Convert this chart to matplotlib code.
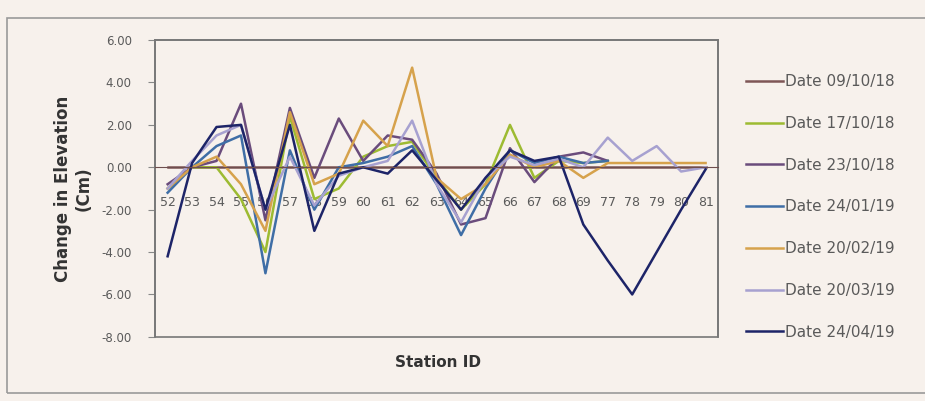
import numpy as np
import matplotlib
matplotlib.use("Agg")
import matplotlib.pyplot as plt
from matplotlib.patches import Rectangle

nan = np.nan

stations = ["52", "53", "54", "55", "56", "57", "58", "59", "60", "61", "62", "63",
            "64", "65", "66", "67", "68", "69", "77", "78", "79", "80", "81"]

d_091018 = [0.0, 0.0, 0.0, 0.0, 0.0, 0.0, 0.0, 0.0, 0.0, 0.0, 0.0, 0.0,
            0.0, 0.0, 0.0, 0.0, 0.0, 0.0, 0.0, 0.0, 0.0, 0.0, 0.0]
d_171018 = [-1.0, 0.0, 0.0, -1.5, -4.0, 2.4, -1.5, -1.0, 0.5, 1.0, 1.2, -0.5,
            -2.0, -0.8, 2.0, -0.5, 0.3, 0.2, 0.3, nan, nan, nan, nan]
d_231018 = [-0.8, 0.0, 0.3, 3.0, -2.5, 2.8, -0.5, 2.3, 0.3, 1.5, 1.3, -0.3,
            -2.7, -2.4, 0.9, -0.7, 0.5, 0.7, 0.3, nan, nan, nan, nan]
d_240119 = [-1.2, 0.0, 1.0, 1.5, -5.0, 0.8, -2.0, 0.0, 0.2, 0.5, 1.0, -0.8,
            -3.2, -1.0, 0.8, 0.2, 0.5, 0.2, 0.3, nan, nan, nan, nan]
d_200219 = [-1.0, 0.0, 0.5, -0.8, -3.0, 2.6, -0.8, -0.3, 2.2, 1.0, 4.7, -0.5,
            -1.5, -0.8, 0.6, 0.0, 0.3, -0.5, 0.2, 0.2, 0.2, 0.2, 0.2]
d_200319 = [-1.0, 0.3, 1.5, 2.0, -2.0, 0.5, -1.8, -0.4, 0.0, 0.3, 2.2, -0.8,
            -2.6, -0.5, 0.5, 0.1, 0.4, 0.0, 1.4, 0.3, 1.0, -0.2, 0.0]
d_240419 = [-4.2, 0.2, 1.9, 2.0, -2.0, 2.0, -3.0, -0.3, 0.0, -0.3, 0.8, -0.6,
            -2.0, -0.5, 0.8, 0.3, 0.5, -2.7, -4.4, -6.0, -4.0, -2.0, -0.1]

labels = ["Date 09/10/18", "Date 17/10/18", "Date 23/10/18", "Date 24/01/19",
          "Date 20/02/19", "Date 20/03/19", "Date 24/04/19"]
series = [d_091018, d_171018, d_231018, d_240119, d_200219, d_200319, d_240419]
colors = ["#7E5656", "#9DBB32", "#6A4C7C", "#3F6EA6", "#D6A24C", "#A7A1D0", "#1D2468"]

bg = "#F7F1EC"
fig = plt.figure(figsize=(9.25, 4.01), dpi=100, facecolor=bg)
fig.patches.append(Rectangle((0.008, 0.02), 1.1, 0.935, transform=fig.transFigure,
                             fill=False, edgecolor="#9A9A9A", lw=1.2))

ax = fig.add_axes([0.168, 0.16, 0.608, 0.74])
ax.set_facecolor(bg)

x = np.arange(len(stations))
for vals, lab, col in zip(series, labels, colors):
    ax.plot(x, vals, color=col, lw=1.8, label=lab)

ax.set_xlim(-0.5, len(stations) - 0.5)
ax.set_ylim(-8, 6)
ax.set_yticks(np.arange(-8, 7, 2))
ax.set_yticklabels(["%.2f" % v for v in np.arange(-8, 7, 2)])
ax.tick_params(axis="y", labelsize=8.5, labelcolor="#5A5A5A", color="#888888",
               length=5, pad=12)

# category axis crosses at zero, like the Excel chart
for s in ["top", "right", "left"]:
    ax.spines[s].set_color("#777777")
    ax.spines[s].set_linewidth(1.2)
ax.spines["bottom"].set_position(("data", 0))
ax.spines["bottom"].set_color("#6E4E4E")
ax.set_xticks(x)
ax.set_xticklabels(stations)
ax.tick_params(axis="x", length=0, pad=21, labelsize=9, labelcolor="#5A5A5A")
for t in ax.get_xticklabels():
    t.set_zorder(0)
ax.add_patch(Rectangle((0, 0), 1, 1, transform=ax.transAxes, fill=False,
                       edgecolor="#777777", lw=1.2, clip_on=False))

ax.set_ylabel("Change in Elevation\n(Cm)", fontsize=12, fontweight="bold",
              color="#333333", labelpad=6)
fig.text(0.474, 0.097, "Station ID", fontsize=11, fontweight="bold",
         color="#333333", ha="center", va="center")

leg = fig.legend(loc="upper left", bbox_to_anchor=(0.8, 0.83), frameon=False,
                 fontsize=11, labelspacing=1.75, handlelength=2.4,
                 handletextpad=0.15, borderaxespad=0)
for t in leg.get_texts():
    t.set_color("#5A5A5A")

fig.savefig("out.png", dpi=100, facecolor=bg)
